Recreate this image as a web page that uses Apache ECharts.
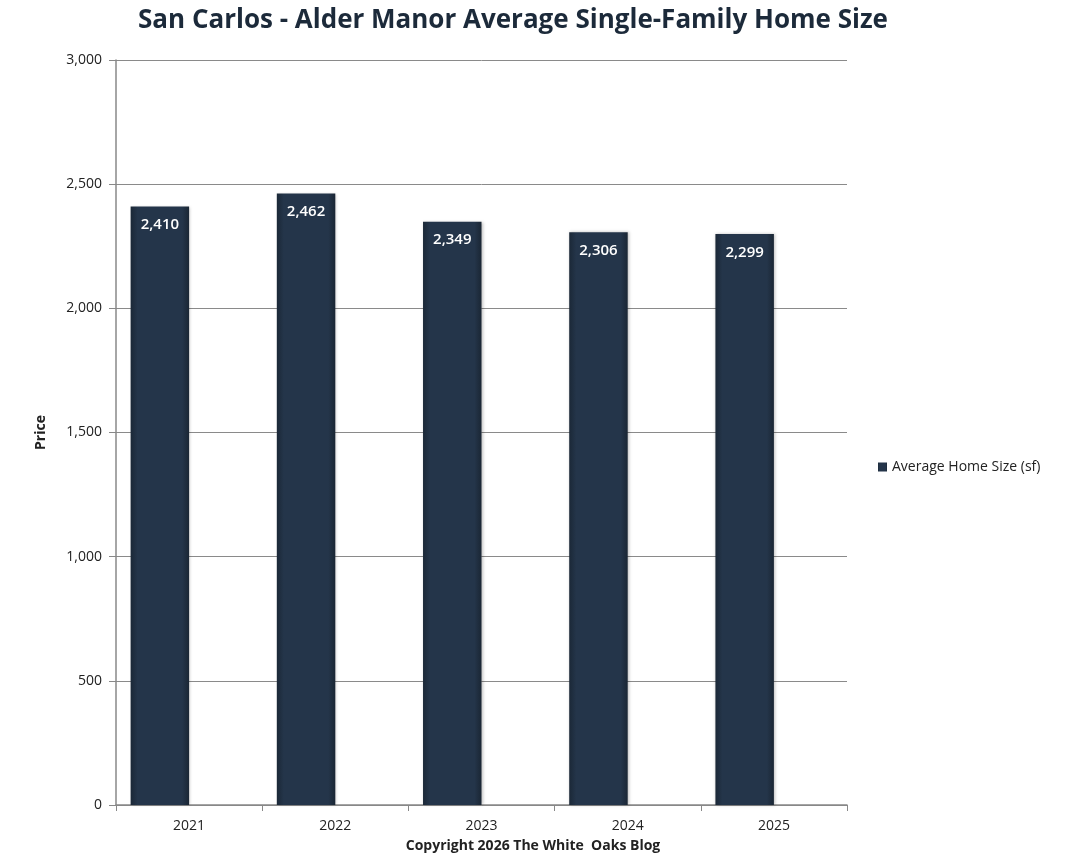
<!DOCTYPE html>
<html>
<head>
<meta charset="utf-8">
<script src="https://cdn.jsdelivr.net/npm/echarts@6/dist/echarts.min.js"></script>
<style>
  html, body { margin: 0; padding: 0; background: #fff; }
  #chart { width: 1080px; height: 866px; }
</style>
</head>
<body>
<div id="chart"></div>
<script>
// categories and values
const years = ['2021', '2022', '2023', '2024', '2025']
const homeSize = [2410, 2462, 2349, 2306, 2299]
// empty second series keeps the bars in the left half of each slot (like the Excel original)
const emptySeries = [null, null, null, null, null]

const font = '"Open Sans", "Noto Sans", sans-serif'
const textColor = '#222'

const chart = echarts.init(document.getElementById('chart'))

chart.setOption({
    animation: false,
    title: {
        text: 'San Carlos - Alder Manor Average Single-Family Home Size',
        left: 508,
        top: 3,
        textAlign: 'center',
        textStyle: {
            fontFamily: font,
            fontSize: 26,
            fontWeight: 'bold',
            color: '#1c2a3a',
        },
    },
    legend: {
        data: ['Average Home Size (sf)'],
        orient: 'vertical',
        left: 873,
        top: 455,
        itemWidth: 9,
        itemHeight: 9,
        itemGap: 4,
        icon: 'rect',
        textStyle: { fontFamily: font, fontSize: 14, color: textColor },
    },
    graphic: [
        {
            type: 'text',
            x: 533,
            y: 839,
            style: {
                text: 'Copyright 2026 The White  Oaks Blog',
                fontFamily: font,
                fontSize: 14,
                fontWeight: 'bold',
                fill: '#222',
                align: 'center',
                verticalAlign: 'top',
            },
        },
    ],
    grid: {
        left: 116,
        right: 233,
        top: 60,
        bottom: 61,
    },
    xAxis: {
        type: 'category',
        data: years,
        axisLine: { lineStyle: { color: '#888', width: 1.5 } },
        axisTick: { show: true, length: 6, lineStyle: { color: '#888' } },
        axisLabel: { fontFamily: font, fontSize: 14, color: textColor, margin: 14 },
    },
    yAxis: {
        type: 'value',
        min: 0,
        max: 3000,
        interval: 500,
        name: 'Price',
        nameLocation: 'middle',
        nameGap: 68,
        nameRotate: 90,
        nameTextStyle: { fontFamily: font, fontSize: 14, fontWeight: 'bold', color: '#222' },
        axisLine: { show: true, lineStyle: { color: '#888', width: 1.5 } },
        axisTick: { show: true, length: 7, lineStyle: { color: '#888' } },
        splitLine: { lineStyle: { color: '#8a8a8a', width: 1 } },
        axisLabel: {
            fontFamily: font,
            fontSize: 14,
            color: textColor,
            margin: 14,
            formatter: (v) => v.toLocaleString('en-US'),
        },
    },
    series: [
        {
            name: 'Average Home Size (sf)',
            type: 'bar',
            data: homeSize,
            barWidth: '40%',
            barGap: '0%',
            barCategoryGap: '20%',
            itemStyle: {
                color: {
                    type: 'linear',
                    x: 0, y: 0, x2: 1, y2: 0,
                    colorStops: [
                        { offset: 0, color: '#1b2837' },
                        { offset: 0.12, color: '#24354a' },
                        { offset: 0.88, color: '#24354a' },
                        { offset: 1, color: '#1a2634' },
                    ],
                },
                shadowColor: 'rgba(0,0,0,0.25)',
                shadowBlur: 3,
                shadowOffsetX: 1,
                shadowOffsetY: 0,
            },
            label: {
                show: true,
                position: 'insideTop',
                distance: 11,
                color: '#fff',
                fontFamily: font,
                fontSize: 15,
                fontWeight: 600,
                formatter: (p) => p.value.toLocaleString('en-US'),
            },
        },
        {
            name: 'spacer',
            type: 'bar',
            data: emptySeries,
            barWidth: '40%',
        },
    ],
})
</script>
</body>
</html>
